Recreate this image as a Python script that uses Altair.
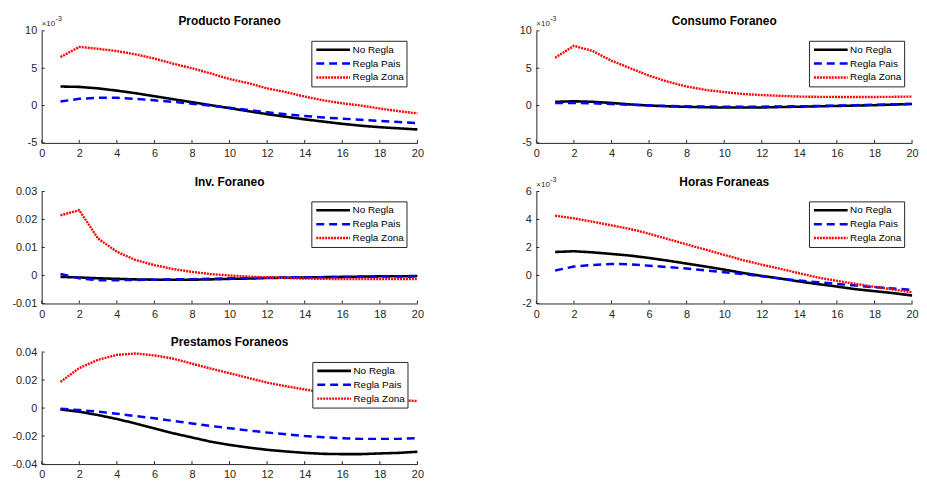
import altair as alt
import pandas as pd

# ---------------- data ----------------
periods = list(range(1, 21))
series = ["No Regla", "Regla Pais", "Regla Zona"]
colors = ["#000000", "#0000ff", "#ff0000"]
dashes = [[1, 0], [8, 5], [2, 1]]
widths = [2.6, 2.4, 2.0]

titles = ["Producto Foraneo", "Consumo Foraneo", "Inv. Foraneo", "Horas Foraneas", "Prestamos Foraneos"]

# Producto Foraneo (x 10^-3)
prod_no = [2.55, 2.5, 2.3, 2.0, 1.65, 1.25, 0.85, 0.45, 0.05, -0.35, -0.75, -1.15, -1.5, -1.85, -2.15, -2.45, -2.7, -2.9, -3.05, -3.2]
prod_pais = [0.55, 0.9, 1.05, 1.05, 0.9, 0.7, 0.5, 0.25, 0.0, -0.3, -0.6, -0.9, -1.15, -1.4, -1.6, -1.75, -1.9, -2.05, -2.2, -2.35]
prod_zona = [6.5, 7.85, 7.6, 7.3, 6.85, 6.3, 5.6, 5.0, 4.3, 3.55, 3.0, 2.3, 1.8, 1.2, 0.7, 0.3, 0.0, -0.4, -0.75, -1.05]

# Consumo Foraneo (x 10^-3)
cons_no = [0.5, 0.57, 0.5, 0.35, 0.15, 0.0, -0.1, -0.17, -0.23, -0.26, -0.27, -0.25, -0.2, -0.15, -0.1, -0.05, 0.0, 0.05, 0.13, 0.22]
cons_pais = [0.35, 0.35, 0.3, 0.2, 0.1, 0.03, -0.05, -0.1, -0.13, -0.15, -0.15, -0.15, -0.12, -0.1, -0.05, 0.0, 0.05, 0.1, 0.15, 0.2]
cons_zona = [6.4, 8.0, 7.3, 6.0, 5.0, 4.0, 3.2, 2.55, 2.1, 1.8, 1.55, 1.4, 1.3, 1.2, 1.17, 1.15, 1.15, 1.15, 1.17, 1.2]

# Inv. Foraneo
inv_no = [-0.0005, -0.0007, -0.001, -0.0012, -0.0014, -0.0015, -0.0015, -0.0015, -0.0014, -0.0012, -0.0011, -0.0009, -0.0008, -0.0007, -0.0006, -0.0005, -0.0004, -0.0003, -0.0003, -0.0002]
inv_pais = [0.0005, -0.001, -0.0017, -0.0017, -0.0016, -0.0015, -0.0014, -0.0013, -0.0012, -0.001, -0.0009, -0.0008, -0.0007, -0.0006, -0.0006, -0.0005, -0.0005, -0.0004, -0.0004, -0.0003]
inv_zona = [0.0215, 0.0233, 0.0132, 0.0085, 0.0055, 0.0037, 0.0023, 0.0013, 0.0005, 0.0, -0.0004, -0.0007, -0.0009, -0.0011, -0.0012, -0.0013, -0.0013, -0.0013, -0.0013, -0.0013]

# Horas Foraneas (x 10^-3)
hor_no = [1.68, 1.73, 1.65, 1.54, 1.42, 1.25, 1.06, 0.85, 0.64, 0.42, 0.18, -0.03, -0.22, -0.43, -0.62, -0.79, -0.98, -1.12, -1.26, -1.43]
hor_pais = [0.35, 0.64, 0.75, 0.82, 0.8, 0.7, 0.6, 0.5, 0.37, 0.23, 0.1, -0.05, -0.22, -0.36, -0.48, -0.6, -0.72, -0.84, -0.93, -1.03]
hor_zona = [4.27, 4.08, 3.84, 3.58, 3.32, 2.98, 2.6, 2.22, 1.85, 1.47, 1.1, 0.77, 0.47, 0.16, -0.15, -0.38, -0.6, -0.81, -1.0, -1.2]

# Prestamos Foraneos
pre_no = [-0.001, -0.0026, -0.005, -0.0078, -0.011, -0.0145, -0.018, -0.021, -0.024, -0.0263, -0.0282, -0.0298, -0.031, -0.032, -0.0327, -0.0329, -0.0329, -0.0324, -0.032, -0.0312]
pre_pais = [-0.0005, -0.0014, -0.0026, -0.004, -0.0057, -0.0073, -0.0092, -0.011, -0.0128, -0.0144, -0.016, -0.0175, -0.0187, -0.0199, -0.0208, -0.0215, -0.022, -0.022, -0.022, -0.0215]
pre_zona = [0.0187, 0.0286, 0.0345, 0.038, 0.039, 0.0376, 0.0353, 0.0317, 0.0282, 0.0249, 0.0215, 0.0182, 0.0156, 0.0133, 0.0111, 0.0092, 0.0078, 0.0066, 0.0057, 0.005]

x_ticks = [0, 2, 4, 6, 8, 10, 12, 14, 16, 18, 20]
y_ticks_e3 = [-5, 0, 5, 10]
y_ticks_inv = [-0.01, 0.0, 0.01, 0.02, 0.03]
y_ticks_hor = [-2, 0, 2, 4, 6]
y_ticks_pre = [-0.04, -0.02, 0.0, 0.02, 0.04]

# ---------------- styling ----------------
W, H = 379, 113
AX = "#262626"
FONT = "Liberation Sans"
LABEL_EXPR = "datum.value == 0 ? '0' : (datum.value < 0 ? '-' + format(-datum.value, '~g') : format(datum.value, '~g'))"


def panel(title, lists, ticks, exponent, legend_x):
    rows = []
    for s, vals in zip(series, lists):
        for p, v in zip(periods, vals):
            rows.append({"x": p, "y": v, "s": s})
    df = pd.DataFrame(rows)
    xs = alt.Scale(domain=[0, 20], nice=False, zero=False)
    ys = alt.Scale(domain=[ticks[0], ticks[-1]], nice=False, zero=False)
    xaxis = alt.Axis(values=x_ticks, title=None, grid=False, ticks=False, labelFlush=False,
                     labelPadding=5, format="d")
    yaxis = alt.Axis(values=ticks, title=None, grid=False, ticks=False, labelFlush=False,
                     labelPadding=5, labelExpr=LABEL_EXPR)
    leg = alt.Legend(title=None, orient="none", legendX=legend_x, legendY=10,
                     symbolType="stroke", symbolSize=1156, clipHeight=14,
                     symbolStrokeWidth=2.2, labelFontSize=10, labelFont=FONT,
                     labelColor="#000000", labelOffset=1, padding=2, rowPadding=0,
                     symbolOffset=1.5, labelExpr="datum.label + '\u00a0'",
                     strokeColor=AX, fillColor="#ffffff")
    lines = alt.Chart(df).mark_line(strokeCap="butt", strokeJoin="round").encode(
        x=alt.X("x:Q", scale=xs, axis=xaxis),
        y=alt.Y("y:Q", scale=ys, axis=yaxis),
        color=alt.Color("s:N", scale=alt.Scale(domain=series, range=colors), legend=leg),
        strokeDash=alt.StrokeDash("s:N", scale=alt.Scale(domain=series, range=dashes), legend=leg),
        strokeWidth=alt.StrokeWidth("s:N", scale=alt.Scale(domain=series, range=widths), legend=None),
    )
    xt = alt.Chart(pd.DataFrame({"x": x_ticks})).mark_rule(color=AX, strokeWidth=1).encode(
        x=alt.X("x:Q", scale=xs, axis=xaxis), y=alt.value(H), y2=alt.value(H - 3))
    yt = alt.Chart(pd.DataFrame({"y": ticks})).mark_rule(color=AX, strokeWidth=1).encode(
        y=alt.Y("y:Q", scale=ys, axis=yaxis), x=alt.value(0), x2=alt.value(3))
    ttl = alt.Chart(pd.DataFrame({"t": [title]})).mark_text(
        font=FONT, fontSize=12, fontWeight="bold", color="#000000", baseline="alphabetic", align="center"
    ).encode(x=alt.value(W / 2), y=alt.value(-6), text="t:N")
    layers = [lines, xt, yt, ttl]
    if exponent:
        e1 = alt.Chart(pd.DataFrame({"t": ["\u00d710"]})).mark_text(
            font=FONT, fontSize=8, color=AX, baseline="alphabetic", align="left"
        ).encode(x=alt.value(0), y=alt.value(-5), text="t:N")
        e2 = alt.Chart(pd.DataFrame({"t": ["-3"]})).mark_text(
            font=FONT, fontSize=7, color=AX, baseline="alphabetic", align="left"
        ).encode(x=alt.value(14), y=alt.value(-9.5), text="t:N")
        layers += [e1, e2]
    return alt.layer(*layers).properties(width=W, height=H)


charts = [
    panel(titles[0], [prod_no, prod_pais, prod_zona], y_ticks_e3, True, 272),
    panel(titles[1], [cons_no, cons_pais, cons_zona], y_ticks_e3, True, 275),
    panel(titles[2], [inv_no, inv_pais, inv_zona], y_ticks_inv, False, 272),
    panel(titles[3], [hor_no, hor_pais, hor_zona], y_ticks_hor, True, 275),
    panel(titles[4], [pre_no, pre_pais, pre_zona], y_ticks_pre, False, 273),
]

chart = alt.concat(*charts, columns=2, spacing={"row": 49, "column": 120}, bounds="flush").resolve_scale(
    color="independent", strokeDash="independent", strokeWidth="independent"
).resolve_legend(color="independent", strokeDash="independent").properties(
    padding={"left": 3, "top": 5, "right": 0, "bottom": 0}
).configure_view(stroke=None).configure_axis(
    domainColor=AX, domainWidth=1, labelColor=AX, labelFont=FONT, labelFontSize=11
)

chart.save("out.html", embed_options={"renderer": "svg", "actions": False})
